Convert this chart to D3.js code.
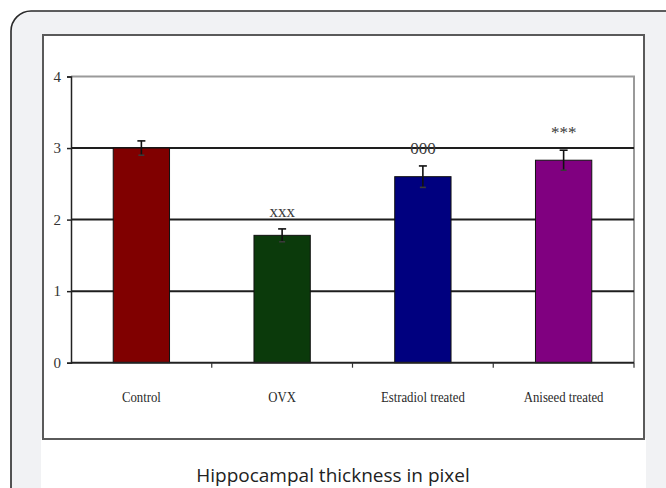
<!DOCTYPE html>
<html>
<head>
<meta charset="utf-8">
<script src="https://cdn.jsdelivr.net/npm/d3@7"></script>
<style>
  html, body { margin: 0; padding: 0; background: #fff; }
  svg { display: block; }
</style>
</head>
<body>
<svg id="chart" width="666" height="488"></svg>
<script>
// data
const groups = ["Control", "OVX", "Estradiol treated", "Aniseed treated"];
const means = [3.0, 1.78, 2.6, 2.83];
const errors = [0.1, 0.09, 0.15, 0.14];
const marks = ["", "xxx", "000", "***"];
const barColors = ["#800000", "#0b3a0b", "#00007f", "#800080"];
const yTicks = [0, 1, 2, 3, 4];

const svg = d3.select("#chart");

// card background with rounded corner
svg.append("rect")
    .attr("x", 11).attr("y", 11)
    .attr("width", 700).attr("height", 520)
    .attr("rx", 20)
    .attr("fill", "#f1f2f4")
    .attr("stroke", "#2a2a2a")
    .attr("stroke-width", 1.6);

// white caption panel under the chart picture
svg.append("rect")
    .attr("x", 41).attr("y", 438)
    .attr("width", 605).attr("height", 60)
    .attr("fill", "#fff");

// chart picture frame
svg.append("rect")
    .attr("x", 43).attr("y", 35)
    .attr("width", 601).attr("height", 404)
    .attr("fill", "#fff")
    .attr("stroke", "#5a5a5a")
    .attr("stroke-width", 2);

const plotL = 71, plotR = 634, plotT = 76.5, plotB = 362.7;

const x = d3.scaleBand().domain(groups).range([plotL, plotR]).paddingInner(0.6).paddingOuter(0.3);
const xb = d3.scaleBand().domain(groups).range([plotL, plotR]); // for tick positions
const y = d3.scaleLinear().domain([0, 4]).range([plotB, plotT]);

// plot area border (grey top and right)
svg.append("path")
    .attr("d", `M${plotL},${plotT}H${plotR}V${plotB}`)
    .attr("fill", "none")
    .attr("stroke", "#9a9a9a")
    .attr("stroke-width", 2);

// gridlines
svg.append("g")
    .selectAll("line")
    .data(yTicks.filter(d => d > 0 && d < 4))
    .join("line")
    .attr("x1", plotL).attr("x2", plotR)
    .attr("y1", d => y(d)).attr("y2", d => y(d))
    .attr("stroke", "#1e1e1e")
    .attr("stroke-width", 2);

// y axis
const yAxis = svg.append("g")
    .attr("transform", `translate(${plotL},0)`)
    .call(d3.axisLeft(y).tickValues(yTicks).tickFormat(d3.format("d")).tickSize(4).tickPadding(6));
yAxis.select(".domain").attr("stroke", "#222").attr("stroke-width", 1.5);
yAxis.selectAll(".tick line").attr("stroke", "#222").attr("stroke-width", 1.5);
yAxis.selectAll("text")
    .attr("font-family", "Liberation Serif, serif")
    .attr("font-size", 15)
    .attr("fill", "#333");

// bars
svg.append("g")
    .selectAll("rect")
    .data(groups)
    .join("rect")
    .attr("x", d => x(d))
    .attr("y", (d, i) => y(means[i]))
    .attr("width", x.bandwidth())
    .attr("height", (d, i) => y(0) - y(means[i]))
    .attr("fill", (d, i) => barColors[i])
    .attr("stroke", "#111")
    .attr("stroke-width", 1);

// x axis
const xAxis = svg.append("g")
    .attr("transform", `translate(0,${plotB})`);
xAxis.append("line")
    .attr("x1", plotL).attr("x2", plotR)
    .attr("stroke", "#222").attr("stroke-width", 2);
xAxis.selectAll(".xt")
    .data(groups)
    .join("line")
    .attr("class", "xt")
    .attr("x1", d => xb(d) + xb.step())
    .attr("x2", d => xb(d) + xb.step())
    .attr("y1", 0).attr("y2", 5)
    .attr("stroke", "#333").attr("stroke-width", 1.2);
xAxis.selectAll(".xl")
    .data(groups)
    .join("text")
    .attr("class", "xl")
    .attr("x", d => xb(d) + xb.bandwidth() / 2)
    .attr("y", 39)
    .attr("text-anchor", "middle")
    .attr("font-family", "Liberation Serif, serif")
    .attr("font-size", 14.5)
    .attr("fill", "#2a2a2a")
    .text(d => d)
    .each(function () {
        // the original labels are a little condensed
        const w = this.getComputedTextLength();
        d3.select(this).attr("textLength", w * 0.88).attr("lengthAdjust", "spacingAndGlyphs");
    });

// error bars
const eb = svg.append("g").attr("stroke", "#111").attr("stroke-width", 1.6);
groups.forEach((g, i) => {
    const cx = x(g) + x.bandwidth() / 2;
    eb.append("line").attr("x1", cx).attr("x2", cx)
        .attr("y1", y(means[i] + errors[i])).attr("y2", y(means[i] - errors[i]));
    eb.append("line").attr("x1", cx - 4).attr("x2", cx + 4)
        .attr("y1", y(means[i] + errors[i])).attr("y2", y(means[i] + errors[i]));
    eb.append("line").attr("x1", cx - 3).attr("x2", cx + 3)
        .attr("y1", y(means[i] - errors[i])).attr("y2", y(means[i] - errors[i]))
        .attr("stroke", "#3a3a3a");
});

// significance marks
svg.append("g")
    .selectAll("text")
    .data(groups)
    .join("text")
    .attr("x", d => x(d) + x.bandwidth() / 2)
    .attr("y", (d, i) => y(means[i] + errors[i]) - 12)
    .attr("text-anchor", "middle")
    .attr("font-family", "Liberation Serif, serif")
    .attr("font-size", 17)
    .attr("fill", "#3a3a3a")
    .text((d, i) => marks[i]);

// caption
svg.append("text")
    .attr("x", 333).attr("y", 482)
    .attr("text-anchor", "middle")
    .attr("font-family", "Open Sans, sans-serif")
    .attr("font-size", 19)
    .attr("fill", "#222")
    .text("Hippocampal  thickness in pixel");
</script>
</body>
</html>
